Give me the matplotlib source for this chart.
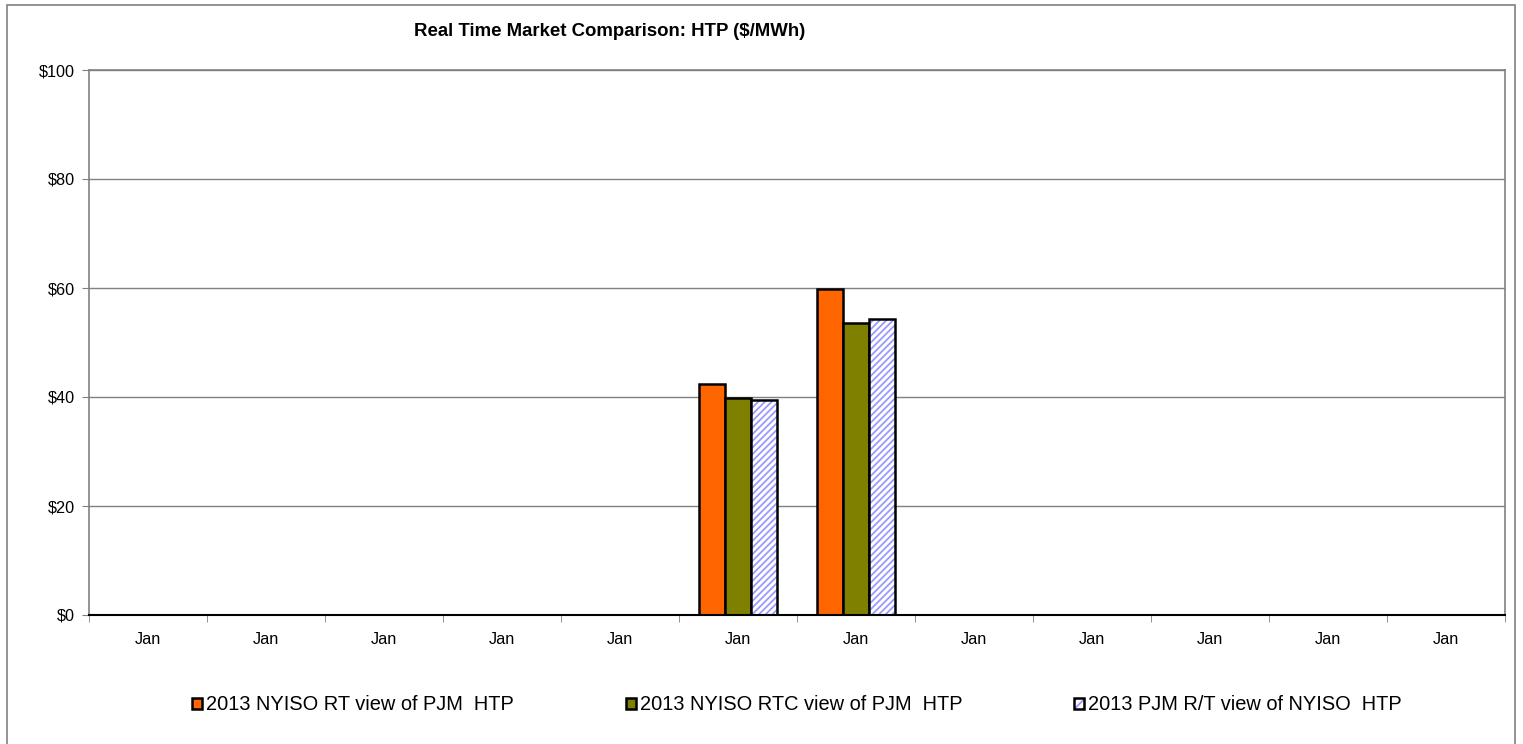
import numpy as np
import matplotlib.pyplot as plt
from matplotlib.patches import Rectangle, Patch
from matplotlib.legend_handler import HandlerTuple

plt.rcParams['font.family'] = ['Liberation Sans', 'DejaVu Sans']
plt.rcParams['hatch.linewidth'] = 1.3

# =========================
# Data
# =========================
months = ["Jan"] * 12
nyiso_rt = [0, 0, 0, 0, 0, 42.4, 59.8, 0, 0, 0, 0, 0]
nyiso_rtc = [0, 0, 0, 0, 0, 39.9, 53.6, 0, 0, 0, 0, 0]
pjm_rt = [0, 0, 0, 0, 0, 39.5, 54.4, 0, 0, 0, 0, 0]
series_names = ["2013 NYISO RT view of PJM  HTP",
                "2013 NYISO RTC view of PJM  HTP",
                "2013 PJM R/T view of NYISO  HTP"]


def main():
    fig = plt.figure(figsize=(15.23, 7.44), dpi=100)
    ax = fig.add_axes([89 / 1523, 1 - 615 / 744, (1505 - 89) / 1523, (615 - 70) / 744])

    # outer chart border
    fig.patches.append(Rectangle((7 / 1523, -0.01), (1515 - 7) / 1523, 1 - 5 / 744 + 0.01,
                                 transform=fig.transFigure, fill=False,
                                 edgecolor="#808080", linewidth=1.2))

    x = np.arange(len(months))
    w = 0.22
    orange = "#FF6600"
    olive = "#808000"
    lav = "#9999FF"

    # only draw non-zero bars
    for i in x:
        if nyiso_rt[i] > 0:
            ax.bar(i - w, nyiso_rt[i], w, color=orange, edgecolor="black", linewidth=1.8, zorder=3)
        if nyiso_rtc[i] > 0:
            ax.bar(i, nyiso_rtc[i], w, color=olive, edgecolor="black", linewidth=1.8, zorder=3)
        if pjm_rt[i] > 0:
            ax.bar(i + w, pjm_rt[i], w, color="white", edgecolor=lav, hatch="/////",
                   linewidth=0, zorder=3)
            ax.bar(i + w, pjm_rt[i], w, fill=False, edgecolor="black", linewidth=1.8, zorder=4)

    ax.set_xlim(-0.5, len(months) - 0.5)
    ax.set_ylim(0, 100)
    ax.set_yticks(np.arange(0, 101, 20))
    ax.set_yticklabels([f"${v}" for v in range(0, 101, 20)], fontsize=11.7)
    ax.set_xticks(x)
    ax.set_xticklabels(months, fontsize=11.7)
    ax.set_xticks(np.arange(-0.5, len(months), 1), minor=True)
    ax.tick_params(axis="x", which="major", length=0, pad=12)
    ax.tick_params(axis="x", which="minor", length=5, color="#808080")
    ax.tick_params(axis="y", length=5, color="#808080", pad=5)

    ax.grid(axis="y", color="#808080", linewidth=1.0, zorder=0)
    for s in ["top", "right", "left"]:
        ax.spines[s].set_color("#808080")
        ax.spines[s].set_linewidth(1.2)
    ax.spines["bottom"].set_color("black")
    ax.spines["bottom"].set_linewidth(1.5)
    ax.spines["bottom"].set_zorder(5)

    fig.text(610 / 1523, 1 - 32 / 744, "Real Time Market Comparison: HTP ($/MWh)",
             ha="center", va="center", fontsize=13.4, fontweight="bold")

    handles = [Patch(facecolor=orange, edgecolor="black", linewidth=1.8),
               Patch(facecolor=olive, edgecolor="black", linewidth=1.8),
               (Patch(facecolor="white", edgecolor=lav, hatch="////", linewidth=0),
                Patch(fill=False, edgecolor="black", linewidth=1.8))]
    fig.legend(handles, series_names, loc="center", bbox_to_anchor=(797 / 1523, 1 - 705 / 744),
               ncol=3, frameon=False, fontsize=14.4, handlelength=0.5, handleheight=0.5,
               handletextpad=0.2, columnspacing=5.6,
               handler_map={tuple: HandlerTuple(ndivide=1)})

    plt.savefig("out.png", dpi=100)


if __name__ == "__main__":
    main()
